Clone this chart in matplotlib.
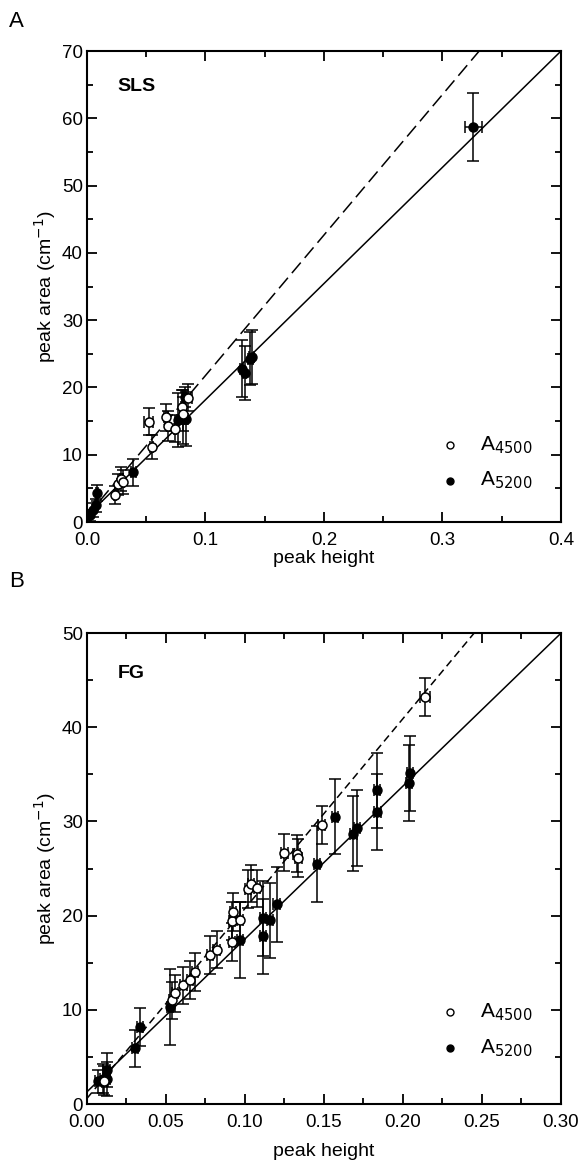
import numpy as np
import matplotlib
matplotlib.use('Agg')
import matplotlib.pyplot as plt
from matplotlib.ticker import MultipleLocator, FormatStrFormatter

plt.rcParams['font.family'] = ['Liberation Sans', 'DejaVu Sans']

# ---- panel A (SLS) ----
sls_open_x = [0.0236, 0.0264, 0.029, 0.030, 0.052, 0.0546, 0.0667, 0.0686, 0.0743, 0.080, 0.0807, 0.0855]
sls_open_y = [4.0, 5.6, 6.4, 5.9, 14.9, 11.2, 15.6, 14.3, 13.9, 17.1, 16.1, 18.5]
sls_open_yerr = [1.3, 1.6, 1.8, 1.8, 2.0, 1.8, 2.0, 2.2, 2.0, 2.5, 2.5, 2.0]
sls_open_xerr = [0.001, 0.001, 0.001, 0.001, 0.004, 0.001, 0.002, 0.001, 0.001, 0.001, 0.001, 0.003]

sls_fill_x = [0.0025, 0.0053, 0.008, 0.0082, 0.039, 0.077, 0.081, 0.0827, 0.0835, 0.1305, 0.133, 0.138, 0.139, 0.326]
sls_fill_y = [1.0, 1.8, 2.5, 4.3, 7.4, 15.2, 15.6, 18.6, 15.3, 22.8, 22.1, 24.3, 24.5, 58.7]
sls_fill_yerr = [0.8, 1.0, 1.0, 1.2, 2.0, 4.0, 4.0, 1.5, 4.0, 4.2, 4.0, 4.0, 4.0, 5.0]
sls_fill_xerr = [0.001, 0.001, 0.001, 0.001, 0.002, 0.001, 0.001, 0.001, 0.002, 0.001, 0.001, 0.002, 0.002, 0.007]

# fitted lines (intercept, slope)
sls_fit_5200 = (0.9, 172.75)
sls_fit_4500 = (0.9, 208.8)

# ---- panel B (FG) ----
fg_open_x = [0.011, 0.054, 0.0557, 0.061, 0.0652, 0.0684, 0.0778, 0.082, 0.0916, 0.0916, 0.0926, 0.0968,
             0.102, 0.104, 0.1074, 0.125, 0.1327, 0.1338, 0.1485, 0.214]
fg_open_y = [2.5, 11.0, 11.75, 12.6, 13.2, 14.0, 15.8, 16.4, 19.4, 17.2, 20.4, 19.5,
             22.8, 23.4, 22.9, 26.7, 26.6, 26.1, 29.6, 43.2]
fg_open_yerr = [1.5, 2.0, 2.0, 2.0, 2.0, 2.0, 2.0, 2.0, 2.0, 2.0, 2.0, 2.0,
                2.0, 2.0, 2.0, 2.0, 2.0, 2.0, 2.0, 2.0]
fg_open_xerr = [0.002, 0.002, 0.002, 0.002, 0.002, 0.002, 0.002, 0.002, 0.002, 0.002, 0.002, 0.002,
                0.002, 0.002, 0.002, 0.002, 0.002, 0.002, 0.002, 0.003]

fg_fill_x = [0.0072, 0.0103, 0.0124, 0.0124, 0.0304, 0.0335, 0.0525, 0.0968, 0.1116, 0.1116, 0.1158,
             0.120, 0.1454, 0.157, 0.1686, 0.1707, 0.1834, 0.1838, 0.204, 0.2044]
fg_fill_y = [2.4, 2.7, 3.6, 2.7, 5.9, 8.2, 10.3, 17.4, 17.8, 19.7, 19.5,
             21.2, 25.5, 30.5, 28.7, 29.3, 33.3, 31.0, 34.1, 35.1]
fg_fill_yerr = [1.2, 1.5, 1.8, 1.8, 2.0, 2.0, 4.0, 4.0, 4.0, 4.0, 4.0,
                4.0, 4.0, 4.0, 4.0, 4.0, 4.0, 4.0, 4.0, 4.0]
fg_fill_xerr = [0.002, 0.002, 0.002, 0.002, 0.002, 0.002, 0.002, 0.002, 0.002, 0.002, 0.002,
                0.002, 0.002, 0.002, 0.002, 0.002, 0.002, 0.002, 0.002, 0.002]

fg_fit_5200 = (1.3, 162.3)
fg_fit_4500 = (0.6, 201.6)


def style_axes(ax, xmax, ymax, xmaj, xmin_, ymaj, ymin_, xfmt, xlabelpad):
    ax.set_xlim(0, xmax)
    ax.set_ylim(0, ymax)
    ax.xaxis.set_major_locator(MultipleLocator(xmaj))
    ax.xaxis.set_minor_locator(MultipleLocator(xmin_))
    ax.yaxis.set_major_locator(MultipleLocator(ymaj))
    ax.yaxis.set_minor_locator(MultipleLocator(ymin_))
    ax.xaxis.set_major_formatter(FormatStrFormatter(xfmt))
    ax.tick_params(which='both', direction='in', top=True, right=True, labelsize=13.5, width=1.3)
    ax.tick_params(which='major', length=7)
    ax.tick_params(which='minor', length=4)
    ax.tick_params(axis='x', pad=7)
    ax.tick_params(axis='y', pad=3)
    for s in ax.spines.values():
        s.set_linewidth(1.5)
    ax.set_xlabel('peak height', fontsize=14, labelpad=xlabelpad)
    ax.set_ylabel('peak area (cm$^{-1}$)', fontsize=14, labelpad=3)


def draw(ax, ox, oy, oxe, oye, fx, fy, fxe, fye, fit_open, fit_fill, xmax, ymax, dash):
    xs = np.array([0, xmax])
    b, m = fit_fill
    ax.plot(xs, b + m * xs, color='black', lw=1.1, zorder=1)
    b2, m2 = fit_open
    ax.plot(xs, b2 + m2 * xs, color='black', lw=1.1, dashes=dash, zorder=1)
    ekw = dict(ecolor='black', elinewidth=1.1, capsize=4, capthick=1.1, ls='none')
    ax.errorbar(fx, fy, xerr=fxe, yerr=fye, fmt='o', mfc='black', mec='black',
                ms=6.5, zorder=3, **ekw)
    ax.errorbar(ox, oy, xerr=oxe, yerr=oye, fmt='o', mfc='white', mec='black',
                mew=1.1, ms=6.5, zorder=4, **ekw)


fig = plt.figure(figsize=(5.81, 11.64), dpi=100)
ax0 = fig.add_axes([0.1497, 0.5515, 0.8158, 0.4046])
ax1 = fig.add_axes([0.1497, 0.0515, 0.8158, 0.4046])

draw(ax0, sls_open_x, sls_open_y, sls_open_xerr, sls_open_yerr,
     sls_fill_x, sls_fill_y, sls_fill_xerr, sls_fill_yerr,
     sls_fit_4500, sls_fit_5200, 0.4, 70, (9, 4))
style_axes(ax0, 0.4, 70, 0.1, 0.05, 10, 5, '%.1f', 1)
ax0.text(0.065, 0.915, 'SLS', transform=ax0.transAxes, fontsize=14, fontweight='bold')

draw(ax1, fg_open_x, fg_open_y, fg_open_xerr, fg_open_yerr,
     fg_fill_x, fg_fill_y, fg_fill_xerr, fg_fill_yerr,
     fg_fit_4500, fg_fit_5200, 0.3, 50, (5, 3))
style_axes(ax1, 0.3, 50, 0.05, 0.025, 10, 5, '%.2f', 9)
ax1.text(0.065, 0.905, 'FG', transform=ax1.transAxes, fontsize=14, fontweight='bold')

# legends drawn as marker + text
for ax, y1, y2 in [(ax0, 0.163, 0.088), (ax1, 0.195, 0.118)]:
    ax.plot([0.765], [y1], 'o', ms=5, mfc='white', mec='black', mew=1.0, transform=ax.transAxes)
    ax.plot([0.765], [y2], 'o', ms=5, mfc='black', mec='black', transform=ax.transAxes)
    ax.text(0.83, y1, 'A$_{4500}$', transform=ax.transAxes, fontsize=15, va='center')
    ax.text(0.83, y2, 'A$_{5200}$', transform=ax.transAxes, fontsize=15, va='center')

fig.text(0.015, 0.977, 'A', fontsize=16)
fig.text(0.015, 0.496, 'B', fontsize=16)

plt.savefig('out.png', dpi=100)
